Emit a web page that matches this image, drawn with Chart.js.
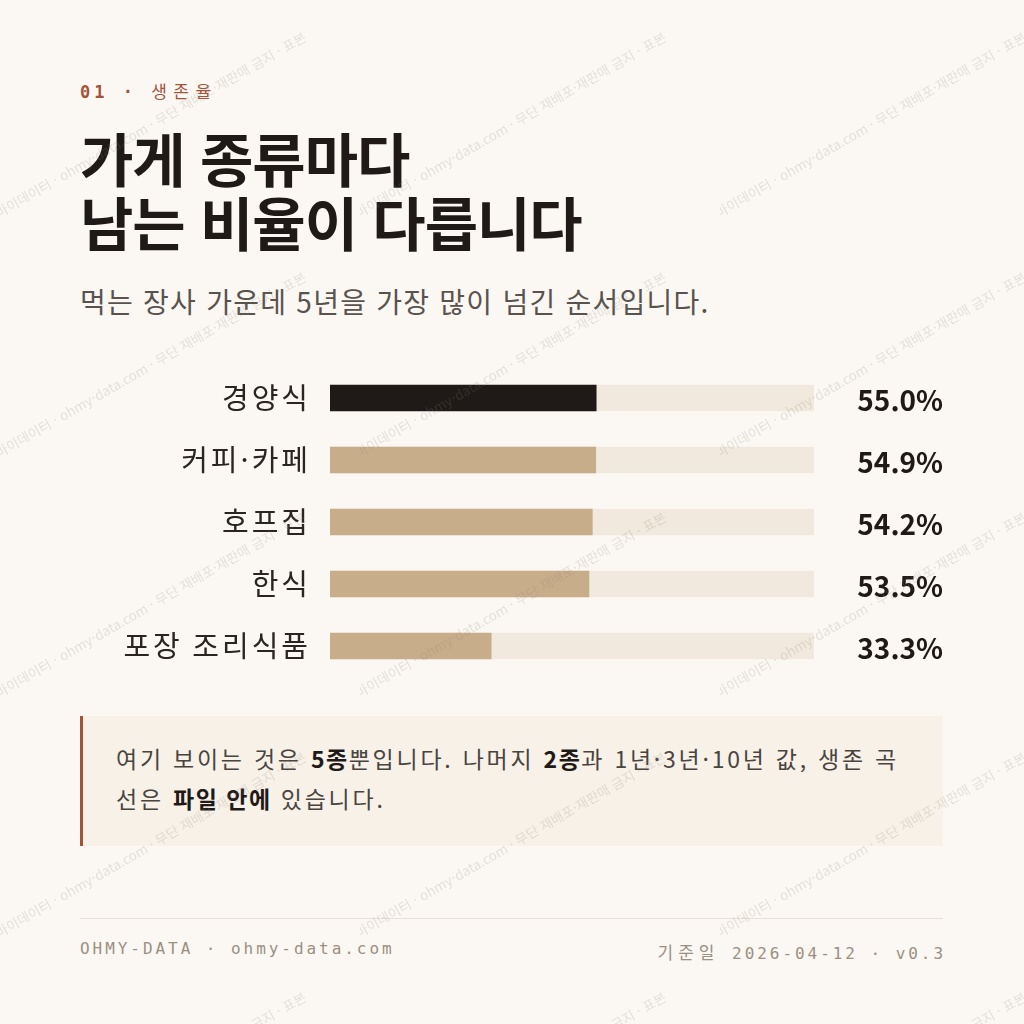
<!DOCTYPE html>
<html lang="ko">
<head>
<meta charset="utf-8">
<title>가게 종류마다 남는 비율이 다릅니다</title>
<script src="https://cdn.jsdelivr.net/npm/chart.js@4.4.1/dist/chart.umd.min.js"></script>
<style>
  html, body { margin: 0; padding: 0; }
  body {
    width: 1024px; height: 1024px; position: relative; overflow: hidden;
    background: #fbf8f3;
    font-family: "Noto Sans CJK KR", "Noto Sans", sans-serif;
    color: #1f1a17;
  }
  .kicker {
    position: absolute; left: 80px; top: 78px;
    font-family: "DejaVu Sans Mono", "Noto Sans CJK KR", monospace;
    font-size: 17px; font-weight: bold; letter-spacing: 4px;
    color: #a4533b;
  }
  .kicker span { font-weight: normal; letter-spacing: 6.5px; }
  h1 {
    position: absolute; left: 80px; top: 125px; margin: 0;
    font-size: 58px; font-weight: 700; line-height: 64px;
    letter-spacing: -1px;
  }
  .sub {
    position: absolute; left: 80px; top: 281px;
    font-size: 28px; letter-spacing: 1.25px; color: #5a534d;
  }
  #chartBox { position: absolute; left: 80px; top: 327px; width: 864px; height: 390px; }
  .note {
    position: absolute; left: 80px; top: 716px; width: 863px; height: 130px;
    padding: 0 0 0 33px; box-sizing: border-box;
    background: #f7f1e8; border-left: 3px solid #a4533b;
    font-size: 23px; line-height: 40px; letter-spacing: 2.75px; color: #4a443f;
  }
  .note p { margin: 0; padding-top: 22px; }
  .note b { color: #1f1a17; letter-spacing: 1.5px; }
  .rule { position: absolute; left: 80px; top: 918px; width: 863px; height: 1px; background: #e7e0d6; }
  .foot {
    position: absolute; top: 939px;
    font-family: "DejaVu Sans Mono", "Noto Sans CJK KR", monospace;
    font-size: 16px; letter-spacing: 2.95px; color: #9b8f80;
  }
  .foot.l { left: 80px; }
  .foot.r { right: 78px; }
  .foot.r span { font-size: 17px; letter-spacing: 5px; }
  #wm { position: absolute; left: 0; top: 0; width: 1024px; height: 1024px; pointer-events: none; }
  .tile { position: absolute; width: 360px; height: 240px; overflow: hidden; }
  .tile span {
    position: absolute; left: 0; top: 204px; white-space: nowrap;
    transform-origin: 0 100%; transform: rotate(-30deg);
    font-size: 13.5px; line-height: 16px; color: rgba(140, 128, 115, 0.2);
  }
</style>
</head>
<body>
<div class="kicker">01 · <span>생존율</span></div>
<h1>가게 종류마다<br>남는 비율이 다릅니다</h1>
<div class="sub">먹는 장사 가운데 5년을 가장 많이 넘긴 순서입니다.</div>

<div id="chartBox"><canvas id="survivalChart"></canvas></div>

<div class="note"><p>여기 보이는 것은 <b>5종</b>뿐입니다. 나머지 <b>2종</b>과 1년·3년·10년 값, 생존 곡<br>선은 <b>파일 안에</b> 있습니다.</p></div>

<div class="rule"></div>
<div class="foot l">OHMY-DATA · ohmy-data.com</div>
<div class="foot r"><span>기준일</span> 2026-04-12 · v0.3</div>

<div id="wm"></div>

<script>
  // 5년 생존율 (%)
  const categories = ["경양식", "커피·카페", "호프집", "한식", "포장 조리식품"];
  const survival = [55.0, 54.9, 54.2, 53.5, 33.3];
  const valueLabels = ["55.0%", "54.9%", "54.2%", "53.5%", "33.3%"];
  const trackMax = [100, 100, 100, 100, 100];

  const barColors = survival.map((v, i) => (i === 0 ? "#1f1a17" : "#c8ad8b"));

  // 축 글자 자간
  const spacing = {
    id: "spacing",
    beforeDraw(chart) {
      chart.ctx.letterSpacing = "3px";
    },
  };

  // 오른쪽 값 표시
  const valueText = {
    id: "valueText",
    afterDatasetsDraw(chart) {
      const ctx = chart.ctx;
      const meta = chart.getDatasetMeta(0);
      ctx.save();
      ctx.letterSpacing = "0px";
      ctx.font = "bold 28px 'Noto Sans CJK KR', sans-serif";
      ctx.fillStyle = "#1f1a17";
      ctx.textAlign = "right";
      ctx.textBaseline = "middle";
      meta.data.forEach((bar, i) => {
        ctx.fillText(valueLabels[i], chart.width - 1, bar.y + 2);
      });
      ctx.restore();
    },
  };

  const ctx = document.getElementById("survivalChart").getContext("2d");
  new Chart(ctx, {
    type: "bar",
    data: {
      labels: categories,
      datasets: [
        {
          label: "5년 생존율",
          data: survival,
          backgroundColor: barColors,
          barThickness: 26,
          grouped: false,
        },
        {
          label: "전체",
          data: trackMax,
          backgroundColor: "#f1e9dd",
          barThickness: 26,
          grouped: false,
        },
      ],
    },
    options: {
      indexAxis: "y",
      responsive: true,
      maintainAspectRatio: false,
      animation: false,
      layout: { padding: { left: 0, right: 130, top: 40, bottom: 40 } },
      plugins: {
        legend: { display: false },
        tooltip: { enabled: false },
      },
      scales: {
        x: { display: false, min: 0, max: 100 },
        y: {
          grid: { display: false, drawTicks: false },
          border: { display: false },
          ticks: {
            padding: 19,
            color: "#2a2522",
            font: { family: "'Noto Sans CJK KR', sans-serif", size: 29 },
          },
          afterFit: (scale) => {
            scale.width = 250;
          },
        },
      },
    },
    plugins: [spacing, valueText],
  });

  // 워터마크
  const wm = document.getElementById("wm");
  for (let r = 0; r < 5; r++) {
    for (let c = 0; c < 3; c++) {
      const t = document.createElement("div");
      t.className = "tile";
      t.style.left = c * 360 + "px";
      t.style.top = r * 240 + "px";
      const s = document.createElement("span");
      s.textContent = "마이데이터 · ohmy-data.com · 무단 재배포·재판매 금지 · 표본";
      t.appendChild(s);
      wm.appendChild(t);
    }
  }
</script>
</body>
</html>
